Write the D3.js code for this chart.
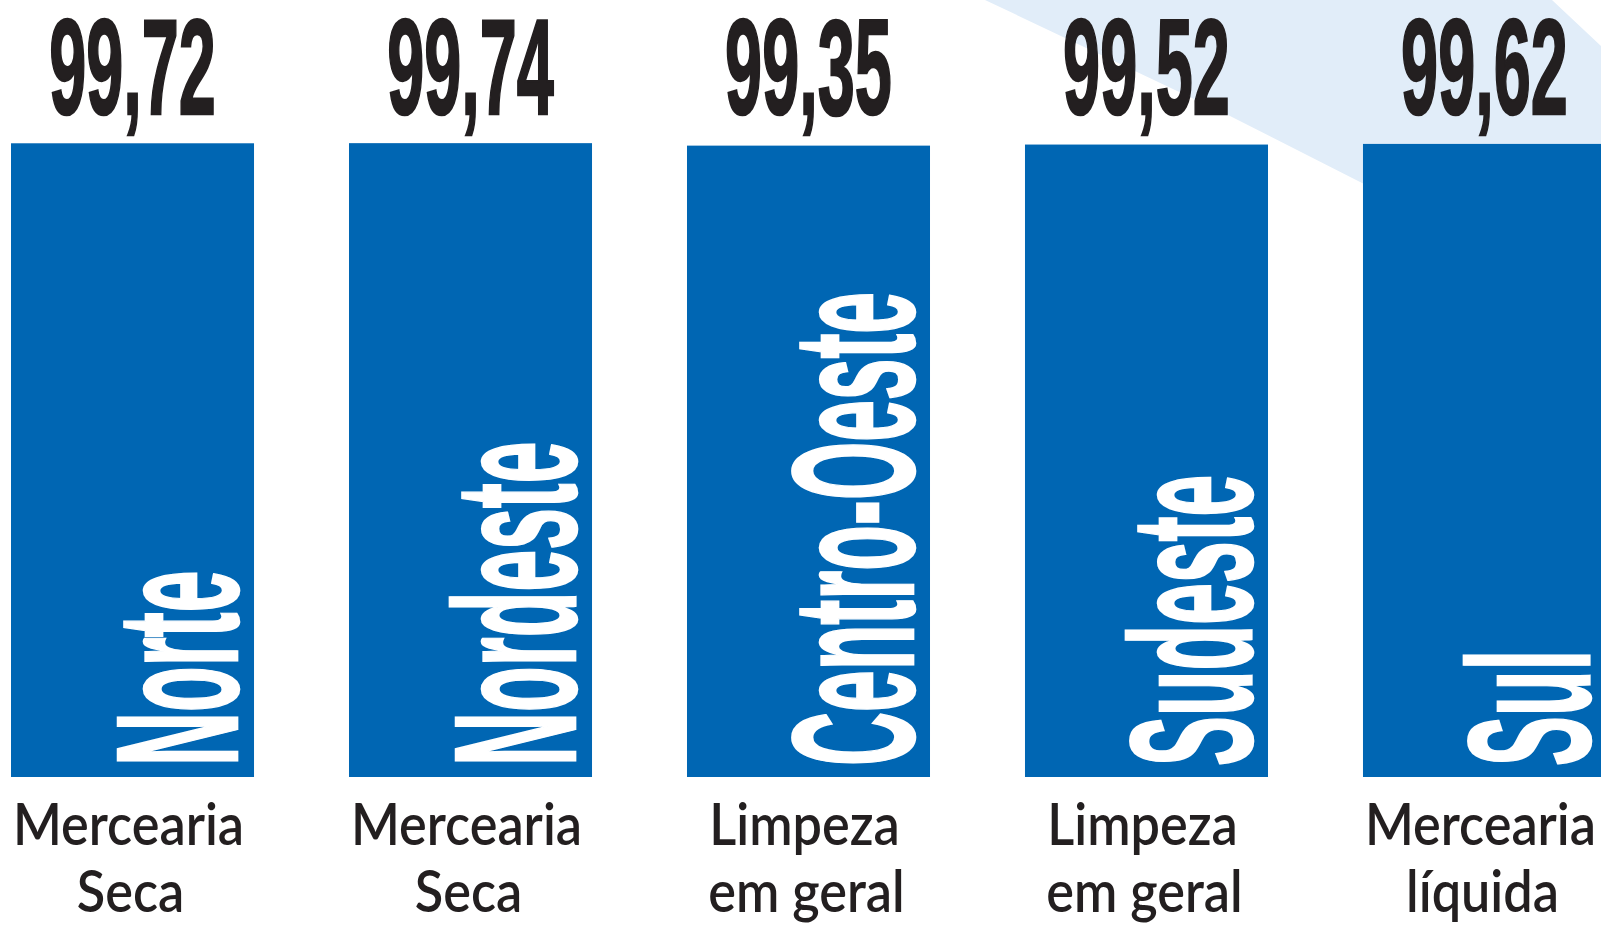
<!DOCTYPE html>
<html>
<head>
<meta charset="utf-8">
<script src="https://cdn.jsdelivr.net/npm/d3@7"></script>
<style>
  html, body { margin: 0; padding: 0; background: #fff; overflow: hidden; }
  svg { display: block; }
</style>
</head>
<body>
<svg id="chart" width="1601" height="927"></svg>
<script>
const regions = ["Norte", "Nordeste", "Centro-Oeste", "Sudeste", "Sul"];
const values = [99.72, 99.74, 99.35, 99.52, 99.62];
const categoryLine1 = ["Mercearia", "Mercearia", "Limpeza", "Limpeza", "Mercearia"];
const categoryLine2 = ["Seca", "Seca", "em geral", "em geral", "líquida"];

const data = regions.map((r, i) => ({
  region: r,
  value: values[i],
  line1: categoryLine1[i],
  line2: categoryLine2[i],
}));

const svg = d3.select("#chart");

// light blue band in the background (decoration, top right)
svg
  .append("path")
  .attr("d", "M985,0 L1230,116 L1364,184 L1460,330 L1601,330 L1601,46 L1552,0 Z")
  .attr("fill", "#e1edf9");

const x = d3
  .scaleBand()
  .domain(regions)
  .range([11, 1606])
  .paddingInner(0.281)
  .paddingOuter(0);

const y = d3.scaleLinear().domain([0, 100]).range([777, 141.5]);

const condFont = "'Liberation Sans Narrow', 'Liberation Sans', sans-serif";

// bars
svg
  .append("g")
  .attr("class", "bars")
  .selectAll("rect")
  .data(data)
  .enter()
  .append("rect")
  .attr("x", (d) => x(d.region))
  .attr("y", (d) => y(d.value))
  .attr("width", x.bandwidth())
  .attr("height", (d) => y(0) - y(d.value))
  .attr("fill", "#0066b3");

// value labels on top
svg
  .append("g")
  .attr("class", "values")
  .selectAll("text")
  .data(data)
  .enter()
  .append("text")
  .attr("transform", (d) => `translate(${x(d.region) + x.bandwidth() / 2},114) scale(0.49,1)`)
  .attr("text-anchor", "middle")
  .attr("font-family", condFont)
  .attr("font-weight", "bold")
  .attr("font-size", 136)
  .attr("fill", "#231f20")
  .attr("stroke", "#231f20")
  .attr("stroke-width", 2)
  .attr("vector-effect", "non-scaling-stroke")
  .text((d) => d3.format(".2f")(d.value).replace(".", ","));

// region names, vertical inside the bars
svg
  .append("g")
  .attr("class", "names")
  .selectAll("text")
  .data(data)
  .enter()
  .append("text")
  .attr("transform", (d) => `translate(${x(d.region) + 226},766) rotate(-90) scale(0.435,1)`)
  .attr("text-anchor", "start")
  .attr("font-family", condFont)
  .attr("font-weight", "bold")
  .attr("font-size", 172)
  .attr("fill", "#fff")
  .attr("stroke", "#fff")
  .attr("stroke-width", 2)
  .attr("vector-effect", "non-scaling-stroke")
  .text((d) => d.region);

// category labels under the bars
const cat = svg
  .append("g")
  .attr("class", "categories")
  .selectAll("g")
  .data(data)
  .enter()
  .append("g")
  .attr("transform", (d) => `translate(${x(d.region) + x.bandwidth() / 2},0)`);

cat
  .append("text")
  .attr("transform", "translate(-4,845) scale(0.9,1)")
  .attr("text-anchor", "middle")
  .attr("font-family", "Lato, 'Open Sans', sans-serif")
  .attr("font-weight", 600)
  .attr("font-size", 58)
  .attr("fill", "#231f20")
  .text((d) => d.line1);

cat
  .append("text")
  .attr("transform", "translate(-2,912) scale(0.9,1)")
  .attr("text-anchor", "middle")
  .attr("font-family", "Lato, 'Open Sans', sans-serif")
  .attr("font-weight", 600)
  .attr("font-size", 58)
  .attr("fill", "#231f20")
  .text((d) => d.line2);
</script>
</body>
</html>
